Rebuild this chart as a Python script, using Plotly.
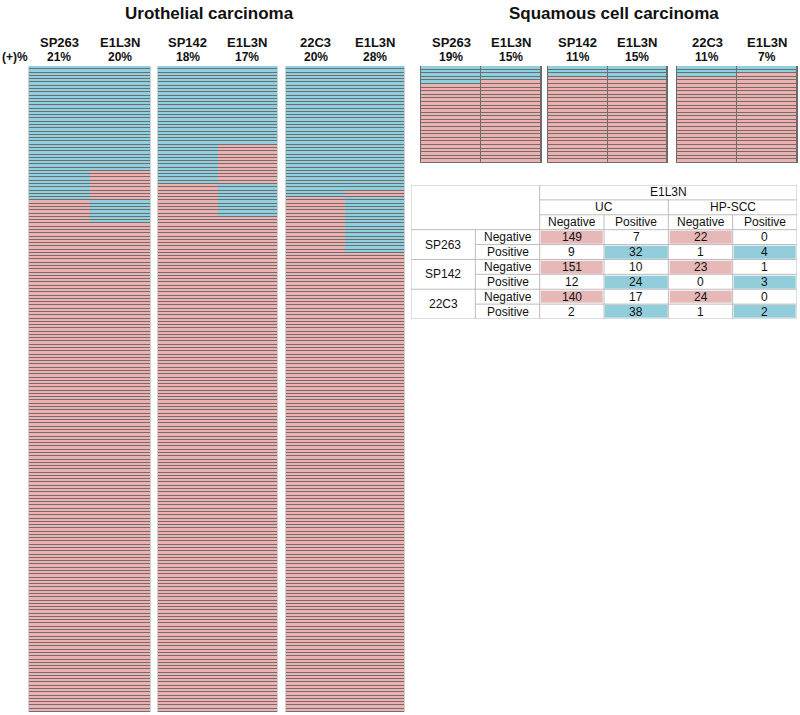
import numpy as np
import plotly.graph_objects as go

# ---------------- data ----------------
assays = ["SP263", "SP142", "22C3"]
reference_assay = "E1L3N"
# contingency tables: rows = assay (Negative, Positive), cols = E1L3N (Negative, Positive)
uc_sp263 = [[149, 7], [9, 32]]
uc_sp142 = [[151, 10], [12, 24]]
uc_22c3 = [[140, 17], [2, 38]]
scc_sp263 = [[22, 0], [1, 4]]
scc_sp142 = [[23, 1], [0, 3]]
scc_22c3 = [[24, 0], [1, 2]]
uc_pct_labels = [["21%", "20%"], ["18%", "17%"], ["20%", "28%"]]
scc_pct_labels = [["19%", "15%"], ["11%", "15%"], ["11%", "7%"]]
status_labels = ["Negative", "Positive"]
cohort_labels = ["UC", "HP-SCC"]
panel_titles = ["Urothelial carcinoma", "Squamous cell carcinoma"]

uc_tables = [uc_sp263, uc_sp142, uc_22c3]
scc_tables = [scc_sp263, scc_sp142, scc_22c3]

# ---------------- style ----------------
W, H = 800, 715
FONT = "Liberation Sans, Arial, sans-serif"
PINK = "#EFB1B0"
BLUE = "#8ED0DF"
T_PINK = "#E6B8B7"
T_BLUE = "#92CDDC"
LINE = "#6e6e6e"
GRID = "#bdbdbd"


def px_x(p):
    return p / W


def px_y(p):
    return 1 - p / H


def case_matrix(tab):
    nn, np_ = tab[0]
    pn, pp = tab[1]
    left = [1] * pp + [1] * pn + [0] * np_ + [0] * nn
    right = [1] * pp + [0] * pn + [1] * np_ + [0] * nn
    return np.array([left, right]).T


fig = go.Figure()
cs = [[0, PINK], [0.5, PINK], [0.5, BLUE], [1, BLUE]]

uc_x = [(29, 150), (158, 277), (286, 404)]
scc_x = [(421, 541), (548, 667), (677, 797)]
uc_y = (66, 712)
scc_y = (66, 163)

panels = []
for i, t in enumerate(uc_tables):
    panels.append((t, uc_x[i], uc_y, 0, uc_pct_labels[i], assays[i]))
for i, t in enumerate(scc_tables):
    panels.append((t, scc_x[i], scc_y, 1, scc_pct_labels[i], assays[i]))

annotations = []
shapes = []
for k, (tab, xd, yd, xgap, pcts, name) in enumerate(panels):
    idx = k + 1
    z = case_matrix(tab)
    n = z.shape[0]
    fig.add_trace(go.Heatmap(
        z=z, x=[0, 1], y=list(range(n)), colorscale=cs, zmin=0, zmax=1,
        showscale=False, xgap=xgap, ygap=1, hoverinfo="skip",
        xaxis=f"x{idx}", yaxis=f"y{idx}"))
    xa = dict(domain=[px_x(xd[0]), px_x(xd[1])], range=[-0.5, 1.5],
              showgrid=False, zeroline=False, showticklabels=False, ticks="",
              anchor=f"y{idx}")
    ya = dict(domain=[px_y(yd[1]), px_y(yd[0])], range=[n - 0.5, -0.5],
              showgrid=False, zeroline=False, showticklabels=False, ticks="",
              anchor=f"x{idx}", showline=True, mirror=True,
              linecolor="#d0d0d0" if k < 3 else "#6a6a6a", linewidth=1)
    fig.layout[f"xaxis{idx}" if idx > 1 else "xaxis"] = xa
    fig.layout[f"yaxis{idx}" if idx > 1 else "yaxis"] = ya
    xref = f"x{idx} domain" if idx > 1 else "x domain"
    yref = f"y{idx} domain" if idx > 1 else "y domain"
    shapes.append(dict(type="rect", xref=xref, yref=yref, x0=0, x1=1, y0=0, y1=1,
                       fillcolor=LINE, line=dict(width=0), layer="below"))
    for j, (lab, pct) in enumerate(zip([name, reference_assay], pcts)):
        xx = 0.25 + 0.5 * j
        annotations.append(dict(text=f"<b>{lab}</b>", x=xx, y=px_y(42), xref=xref, yref="paper",
                                showarrow=False, font=dict(size=13, family=FONT, color="#111"),
                                xanchor="center", yanchor="middle"))
        annotations.append(dict(text=f"<b>{pct}</b>", x=xx, y=px_y(56.5), xref=xref, yref="paper",
                                showarrow=False, font=dict(size=12, family=FONT, color="#111"),
                                xanchor="center", yanchor="middle"))

annotations.append(dict(text="<b>(+)%</b>", x=px_x(15), y=px_y(56.5), xref="paper", yref="paper",
                        showarrow=False, font=dict(size=12, family=FONT, color="#111"),
                        xanchor="center", yanchor="middle"))
annotations.append(dict(text=f"<b>{panel_titles[0]}</b>", x=px_x(209), y=px_y(13), xref="paper",
                        yref="paper", showarrow=False, font=dict(size=17, family=FONT, color="#111"),
                        xanchor="center", yanchor="middle"))
annotations.append(dict(text=f"<b>{panel_titles[1]}</b>", x=px_x(614), y=px_y(13), xref="paper",
                        yref="paper", showarrow=False, font=dict(size=17, family=FONT, color="#111"),
                        xanchor="center", yanchor="middle"))

# ---------------- table ----------------
ti = 7
n_hdr = 3
n_rows = n_hdr + 2 * len(assays)
n_cols = 2 + 2 * len(cohort_labels)
tz = []
ttext = []
for a in range(len(assays)):
    for s in range(2):
        row_z, row_t = [], []
        for c, tabs in enumerate([uc_tables, scc_tables]):
            for e in range(2):
                row_t.append(tabs[a][s][e])
                row_z.append(0 if s != e else (1 if s == 0 else 2))
        tz.append(row_z)
        ttext.append(row_t)
tz = np.array(tz)
tcs = [[0, "white"], [0.333, "white"], [0.333, T_PINK], [0.667, T_PINK], [0.667, T_BLUE], [1, T_BLUE]]
fig.add_trace(go.Heatmap(
    z=tz, x=[2.5 + c for c in range(tz.shape[1])], y=[n_hdr + 0.5 + r for r in range(tz.shape[0])],
    colorscale=tcs, zmin=0, zmax=2, showscale=False, xgap=2, ygap=2, hoverinfo="skip",
    xaxis=f"x{ti}", yaxis=f"y{ti}"))
fig.layout[f"xaxis{ti}"] = dict(domain=[px_x(411), px_x(797)], range=[0, n_cols], visible=False,
                                anchor=f"y{ti}")
fig.layout[f"yaxis{ti}"] = dict(domain=[px_y(319), px_y(185)], range=[n_rows, 0], visible=False,
                                anchor=f"x{ti}")

tfont = dict(size=12, family=FONT, color="#111111")
txr, tyr = f"x{ti}", f"y{ti}"


def tann(text, x, y):
    annotations.append(dict(text=text, x=x, y=y, xref=txr, yref=tyr, showarrow=False,
                            font=tfont, xanchor="center", yanchor="middle"))


tann(reference_assay, n_cols / 2 + 1, 0.5)
for c, coh in enumerate(cohort_labels):
    tann(coh, 3 + 2 * c, 1.5)
    for e, st in enumerate(status_labels):
        tann(st, 2.5 + 2 * c + e, 2.5)
for a, name in enumerate(assays):
    tann(name, 0.5, n_hdr + 2 * a + 1)
    for s, st in enumerate(status_labels):
        tann(st, 1.5, n_hdr + 2 * a + s + 0.5)
        for c in range(tz.shape[1]):
            tann(str(ttext[2 * a + s][c]), 2.5 + c, n_hdr + 2 * a + s + 0.5)

# white background for the table area
shapes.append(dict(type="rect", xref=f"x{ti} domain", yref=f"y{ti} domain", x0=0, x1=1, y0=0, y1=1,
                   fillcolor="white", line=dict(width=0), layer="below"))
# grid lines
hlines = [(0, 0, n_cols), (1, 2, n_cols), (2, 2, n_cols)]
for r in range(n_hdr, n_rows + 1):
    hlines.append((r, 0 if (r - n_hdr) % 2 == 0 else 1, n_cols))
vlines = [(0, 0, n_rows), (1, n_hdr, n_rows), (2, 0, n_rows), (n_cols, 0, n_rows),
          (2 + len(status_labels), 1, n_rows)]
for c in range(len(cohort_labels)):
    vlines.append((3 + 2 * c, 2, n_rows))
for y, x0, x1 in hlines:
    shapes.append(dict(type="line", xref=txr, yref=tyr, x0=x0, x1=x1, y0=y, y1=y,
                       line=dict(color=GRID, width=1)))
for x, y0, y1 in vlines:
    shapes.append(dict(type="line", xref=txr, yref=tyr, x0=x, x1=x, y0=y0, y1=y1,
                       line=dict(color=GRID, width=1)))

fig.update_layout(width=W, height=H, margin=dict(l=0, r=0, t=0, b=0),
                  paper_bgcolor="white", plot_bgcolor="white",
                  annotations=annotations, shapes=shapes, showlegend=False,
                  font=dict(family=FONT))
fig.write_html("out.html", config={"displayModeBar": False},
               post_script="document.body.style.margin='0px';")
